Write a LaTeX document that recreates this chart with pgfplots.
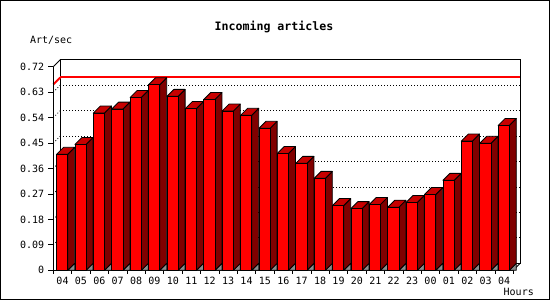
\documentclass[border=0pt]{standalone}
\usepackage{pgfplots}
\usepackage{pgfplotstable}
\pgfplotsset{compat=1.18}
\usepackage{fontspec}
\setmainfont{DejaVu Sans Mono}
\definecolor{barfront}{HTML}{FF0000}
\definecolor{barside}{HTML}{800000}
\definecolor{bartop}{HTML}{C80000}
\definecolor{floorgray}{HTML}{8C8C8C}
\definecolor{maxline}{HTML}{FF0000}
\pgfdeclareplotmark{nothing}{}
\pgfplotstableread{
x v
0 0.410
1 0.445
2 0.556
3 0.570
4 0.611
5 0.656
6 0.615
7 0.572
8 0.604
9 0.563
10 0.548
11 0.502
12 0.413
13 0.378
14 0.325
15 0.229
16 0.218
17 0.233
18 0.223
19 0.240
20 0.268
21 0.318
22 0.457
23 0.449
24 0.512
}\hourly
\pgfplotstableread{
x v
-0.5 0.657
24.5 0.657
}\maxrow
\begin{document}
\begin{tikzpicture}
\useasboundingbox (0,0) rectangle (550bp,300bp);
\draw[line width=1.2bp] (0.6bp,0.6bp) rectangle (549.4bp,299.4bp);
% back wall
\begin{axis}[at={(60.3bp,36.7bp)}, anchor=south west,
  x=18.4bp, y=282.8bp, xmin=-0.5, xmax=24.5, ymin=0, ymax=0.72,
  axis line style={black, line width=0.9bp},
  xtick=\empty, ytick={0.09,0.18,0.27,0.36,0.45,0.54,0.63},
  yticklabels={}, major tick length=0pt,
  ymajorgrids, grid style={black, line width=0.8bp, dash pattern=on 1bp off 2bp},
  clip=false]
\pgfplotsinvokeforeach{0.09,0.18,0.27,0.36,0.45,0.54,0.63}{
  \draw[black, line width=0.8bp, dash pattern=on 1bp off 2bp] (axis cs:-0.5,#1) -- ++(-7bp,-7bp);
}
\draw[black, line width=0.9bp] (axis cs:-0.5,0.72) -- ++(-7bp,-7bp);
\draw[black, line width=0.9bp] (axis cs:24.5,0) -- ++(-7bp,-7bp);
\draw[maxline, line width=2bp] (axis cs:-0.5,0.657) -- ++(-7bp,-7bp);
\addplot[draw=maxline, line width=2bp, mark=none, solid] table[x=x, y=v]{\maxrow};
\end{axis}
% front plane with bars
\begin{axis}[at={(53.3bp,29.7bp)}, anchor=south west,
  x=18.4bp, y=282.8bp, xmin=-0.5, xmax=24.5, ymin=0, ymax=0.72,
  axis x line=bottom, axis y line=left,
  axis line style={-, black, line width=0.9bp},
  x axis line style={-}, y axis line style={-},
  clip=false, tick align=outside,
  xtick={0,...,24},
  xticklabels={04,05,06,07,08,09,10,11,12,13,14,15,16,17,18,19,20,21,22,23,00,01,02,03,04},
  major x tick style=transparent,
  minor xtick={-0.5,0.5,...,24.5},
  minor tick length=3.5bp, major tick length=5bp,
  ytick={0,0.09,0.18,0.27,0.36,0.45,0.54,0.63,0.72},
  yticklabels={0,0.09,0.18,0.27,0.36,0.45,0.54,0.63,0.72},
  tick style={black, line width=0.8bp},
  /pgf/number format/assume math mode=true,
  ticklabel style={font=\fontsize{10bp}{12bp}\selectfont, inner sep=0pt},
  yticklabel style={anchor=east, xshift=-4bp},
  xticklabel style={anchor=base, yshift=-9.5bp},
]
\addplot[scatter, only marks, mark=nothing,
  visualization depends on={\thisrow{v} \as \val},
  scatter/@pre marker code/.code={%
    \pgfmathsetlengthmacro\hh{\val*282.8bp}%
    \filldraw[fill=floorgray, draw=black, line width=0.8bp, line join=round]
      (5.2bp,-\hh) -- (12.2bp,-\hh+7bp) -- (12.2bp,-\hh) -- cycle;
    \filldraw[fill=barside, draw=black, line width=0.8bp, line join=round]
      (5.2bp,0pt) -- (12.2bp,7bp) -- (12.2bp,-\hh+7bp) -- (5.2bp,-\hh) -- cycle;
    \filldraw[fill=bartop, draw=black, line width=0.8bp, line join=round]
      (-6bp,0pt) -- (1bp,7bp) -- (12.2bp,7bp) -- (5.2bp,0pt) -- cycle;
    \filldraw[fill=barfront, draw=black, line width=0.8bp]
      (-6bp,-\hh) rectangle (5.2bp,0pt);
  },
  scatter/@post marker code/.code={}]
  table[x=x, y=v]{\hourly};
\end{axis}
\node[font=\bfseries\fontsize{11.6bp}{14bp}\selectfont, anchor=base, inner sep=0pt] at (274bp,269.3bp) {Incoming articles};
\node[font=\fontsize{10bp}{12bp}\selectfont, anchor=base west, inner sep=0pt] at (29.8bp,256.1bp) {Art/sec};
\node[font=\fontsize{10bp}{12bp}\selectfont, anchor=base east, inner sep=0pt] at (534bp,5bp) {Hours};
\end{tikzpicture}
\end{document}
